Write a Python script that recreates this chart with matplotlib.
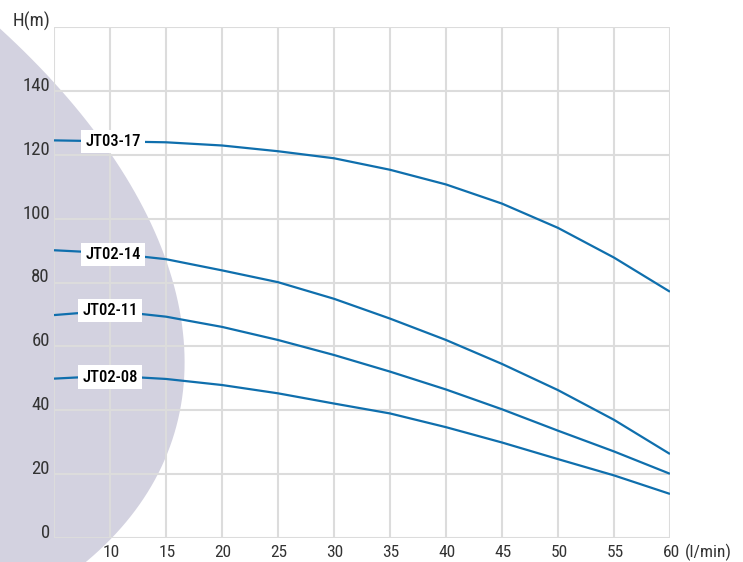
import numpy as np
import matplotlib
matplotlib.use("Agg")
import matplotlib.pyplot as plt
from matplotlib.patches import Polygon
from matplotlib import font_manager
from matplotlib.font_manager import FontProperties
import matplotlib.transforms as mtrans

# ---------------- data ----------------
flow = [5, 10, 15, 20, 25, 30, 35, 40, 45, 50, 55, 60]
jt03_17 = [124.5, 124.2, 123.9, 122.9, 121.1, 118.9, 115.3, 110.7, 104.7, 97.1, 87.8, 77.1]
jt02_14 = [90.1, 89.2, 87.3, 83.8, 80.1, 74.9, 68.7, 62.0, 54.5, 46.3, 37.0, 26.3]
jt02_11 = [69.8, 71.2, 69.3, 66.1, 62.0, 57.3, 52.1, 46.5, 40.3, 33.6, 27.1, 20.1]
jt02_08 = [49.9, 50.8, 49.8, 47.9, 45.3, 42.1, 39.0, 34.7, 29.9, 24.7, 19.6, 13.8]
series_names = ["JT03-17", "JT02-14", "JT02-11", "JT02-08"]
series = [jt03_17, jt02_14, jt02_11, jt02_08]
label_pos = [(10.27, 124.2), (10.27, 88.8), (10.0, 71.3), (10.0, 50.4)]

x_ticks = [10, 15, 20, 25, 30, 35, 40, 45, 50, 55, 60]
y_ticks = [0, 20, 40, 60, 80, 100, 120, 140]

# ---------------- fonts ----------------
def _w(f):
    w = f.weight
    if isinstance(w, str):
        w = {'normal': 400, 'regular': 400, 'book': 400, 'medium': 500,
             'semibold': 600, 'demibold': 600, 'bold': 700}.get(w.lower(), 400)
    return w

def pick_condensed(weight_order):
    cands = []
    for f in font_manager.fontManager.ttflist:
        nm = f.name.lower()
        cond = ('condensed' in nm or 'narrow' in nm or
                str(f.stretch) in ('condensed', 'semi-condensed', 'extra-condensed'))
        if cond and f.style == 'normal' and _w(f) in weight_order:
            cands.append(f)
    if not cands:
        return None
    pref = ['liberation sans narrow', 'roboto condensed', 'open sans condensed', 'dejavu sans']
    cands.sort(key=lambda f: (weight_order.index(_w(f)),
                              next((i for i, p in enumerate(pref) if p in f.name.lower()), 99)))
    return cands[0].fname

tick_file = pick_condensed([400])
if tick_file:
    tick_fp = FontProperties(fname=tick_file, size=13.5)
    xtick_fp = FontProperties(fname=tick_file, size=12.5)
else:
    tick_fp = FontProperties(family='Liberation Sans', size=12)
    xtick_fp = FontProperties(family='Liberation Sans', size=11.5)
lab_file = pick_condensed([500, 400])
if lab_file:
    lab_fp = FontProperties(fname=lab_file, size=12)
else:
    lab_fp = FontProperties(family='Roboto', weight='medium', size=10.5)

# ---------------- style ----------------
W, H = 743, 562
line_color = '#0f6fad'
grid_color = '#dcdcdc'
text_color = '#333333'
shape_color = '#d3d2e0'

fig = plt.figure(figsize=(W / 100, H / 100), dpi=100)
left, right, top, bottom = 54, 670, 27, 538
ax = fig.add_axes([left / W, 1 - bottom / H, (right - left) / W, (bottom - top) / H])
ax.set_facecolor('none')

# decorative background ellipse, fitted to its outline (pixel coords)
outline = np.array([(0, 28), (33, 60), (54, 83), (83, 120), (110, 152), (133, 187),
                    (152, 220), (167, 260), (172, 280), (178, 313), (183, 363),
                    (180, 407), (173, 440), (157, 477), (140, 507), (110, 538),
                    (87, 561)], float) / 100.0
xo, yo = outline[:, 0], outline[:, 1]
Dm = np.column_stack([xo ** 2, xo * yo, yo ** 2, xo, yo, np.ones_like(xo)])
_, _, Vt = np.linalg.svd(Dm)
A, B, C, D, E, F = Vt[-1]
cx, cy = np.linalg.solve([[2 * A, B], [B, 2 * C]], [-D, -E])
Fc = A * cx ** 2 + B * cx * cy + C * cy ** 2 + D * cx + E * cy + F
M = np.array([[A, B / 2], [B / 2, C]])
lam, V = np.linalg.eigh(M)
semi = np.sqrt(-Fc / lam)
t = np.linspace(0, 2 * np.pi, 400)
uv = V @ np.vstack([semi[0] * np.cos(t), semi[1] * np.sin(t)])
ex = (uv[0] + cx) * 100
ey = (uv[1] + cy) * 100
shape = Polygon(np.column_stack([ex / W, 1 - ey / H]), closed=True,
                transform=fig.transFigure, facecolor=shape_color,
                edgecolor='none', zorder=-5)
fig.patches.append(shape)

ax.set_xlim(5, 60)
ax.set_ylim(0, 160)
ax.set_xticks(range(5, 61, 5))
ax.set_yticks(range(0, 161, 20))
ax.grid(True, color=grid_color, linewidth=1.5, zorder=0)
ax.set_axisbelow(True)
for s in ax.spines.values():
    s.set_visible(False)
ax.tick_params(length=0, labelleft=False, labelbottom=False)

for vals in series:
    ax.plot(flow, vals, color=line_color, lw=1.6, zorder=3, solid_capstyle='butt')

for name, (lx, ly) in zip(series_names, label_pos):
    ax.text(lx, ly, name, ha='center', va='center', color='black',
            fontproperties=lab_fp, zorder=5,
            bbox=dict(boxstyle='square,pad=0.25', facecolor='white', edgecolor='none'))

# tick labels
off = mtrans.ScaledTranslation(-4 / 100, 0, fig.dpi_scale_trans)
for v in y_ticks:
    ax.text(5, v, str(v), transform=ax.transData + off, ha='right', va='baseline',
            color=text_color, fontproperties=tick_fp)
offx = mtrans.ScaledTranslation(1 / 100, -19 / 100, fig.dpi_scale_trans)
for v in x_ticks:
    ax.text(v, 0, str(v), transform=ax.transData + offx, ha='center', va='baseline',
            color=text_color, fontproperties=xtick_fp)
offu = mtrans.ScaledTranslation(15 / 100, -19 / 100, fig.dpi_scale_trans)
ax.text(60, 0, '(l/min)', transform=ax.transData + offu, ha='left', va='baseline',
        color=text_color, fontproperties=xtick_fp)
ax.text(5, 160, 'H(m)', transform=ax.transData + off, ha='right', va='baseline',
        color=text_color, fontproperties=tick_fp)

fig.savefig('out.png', dpi=100)
